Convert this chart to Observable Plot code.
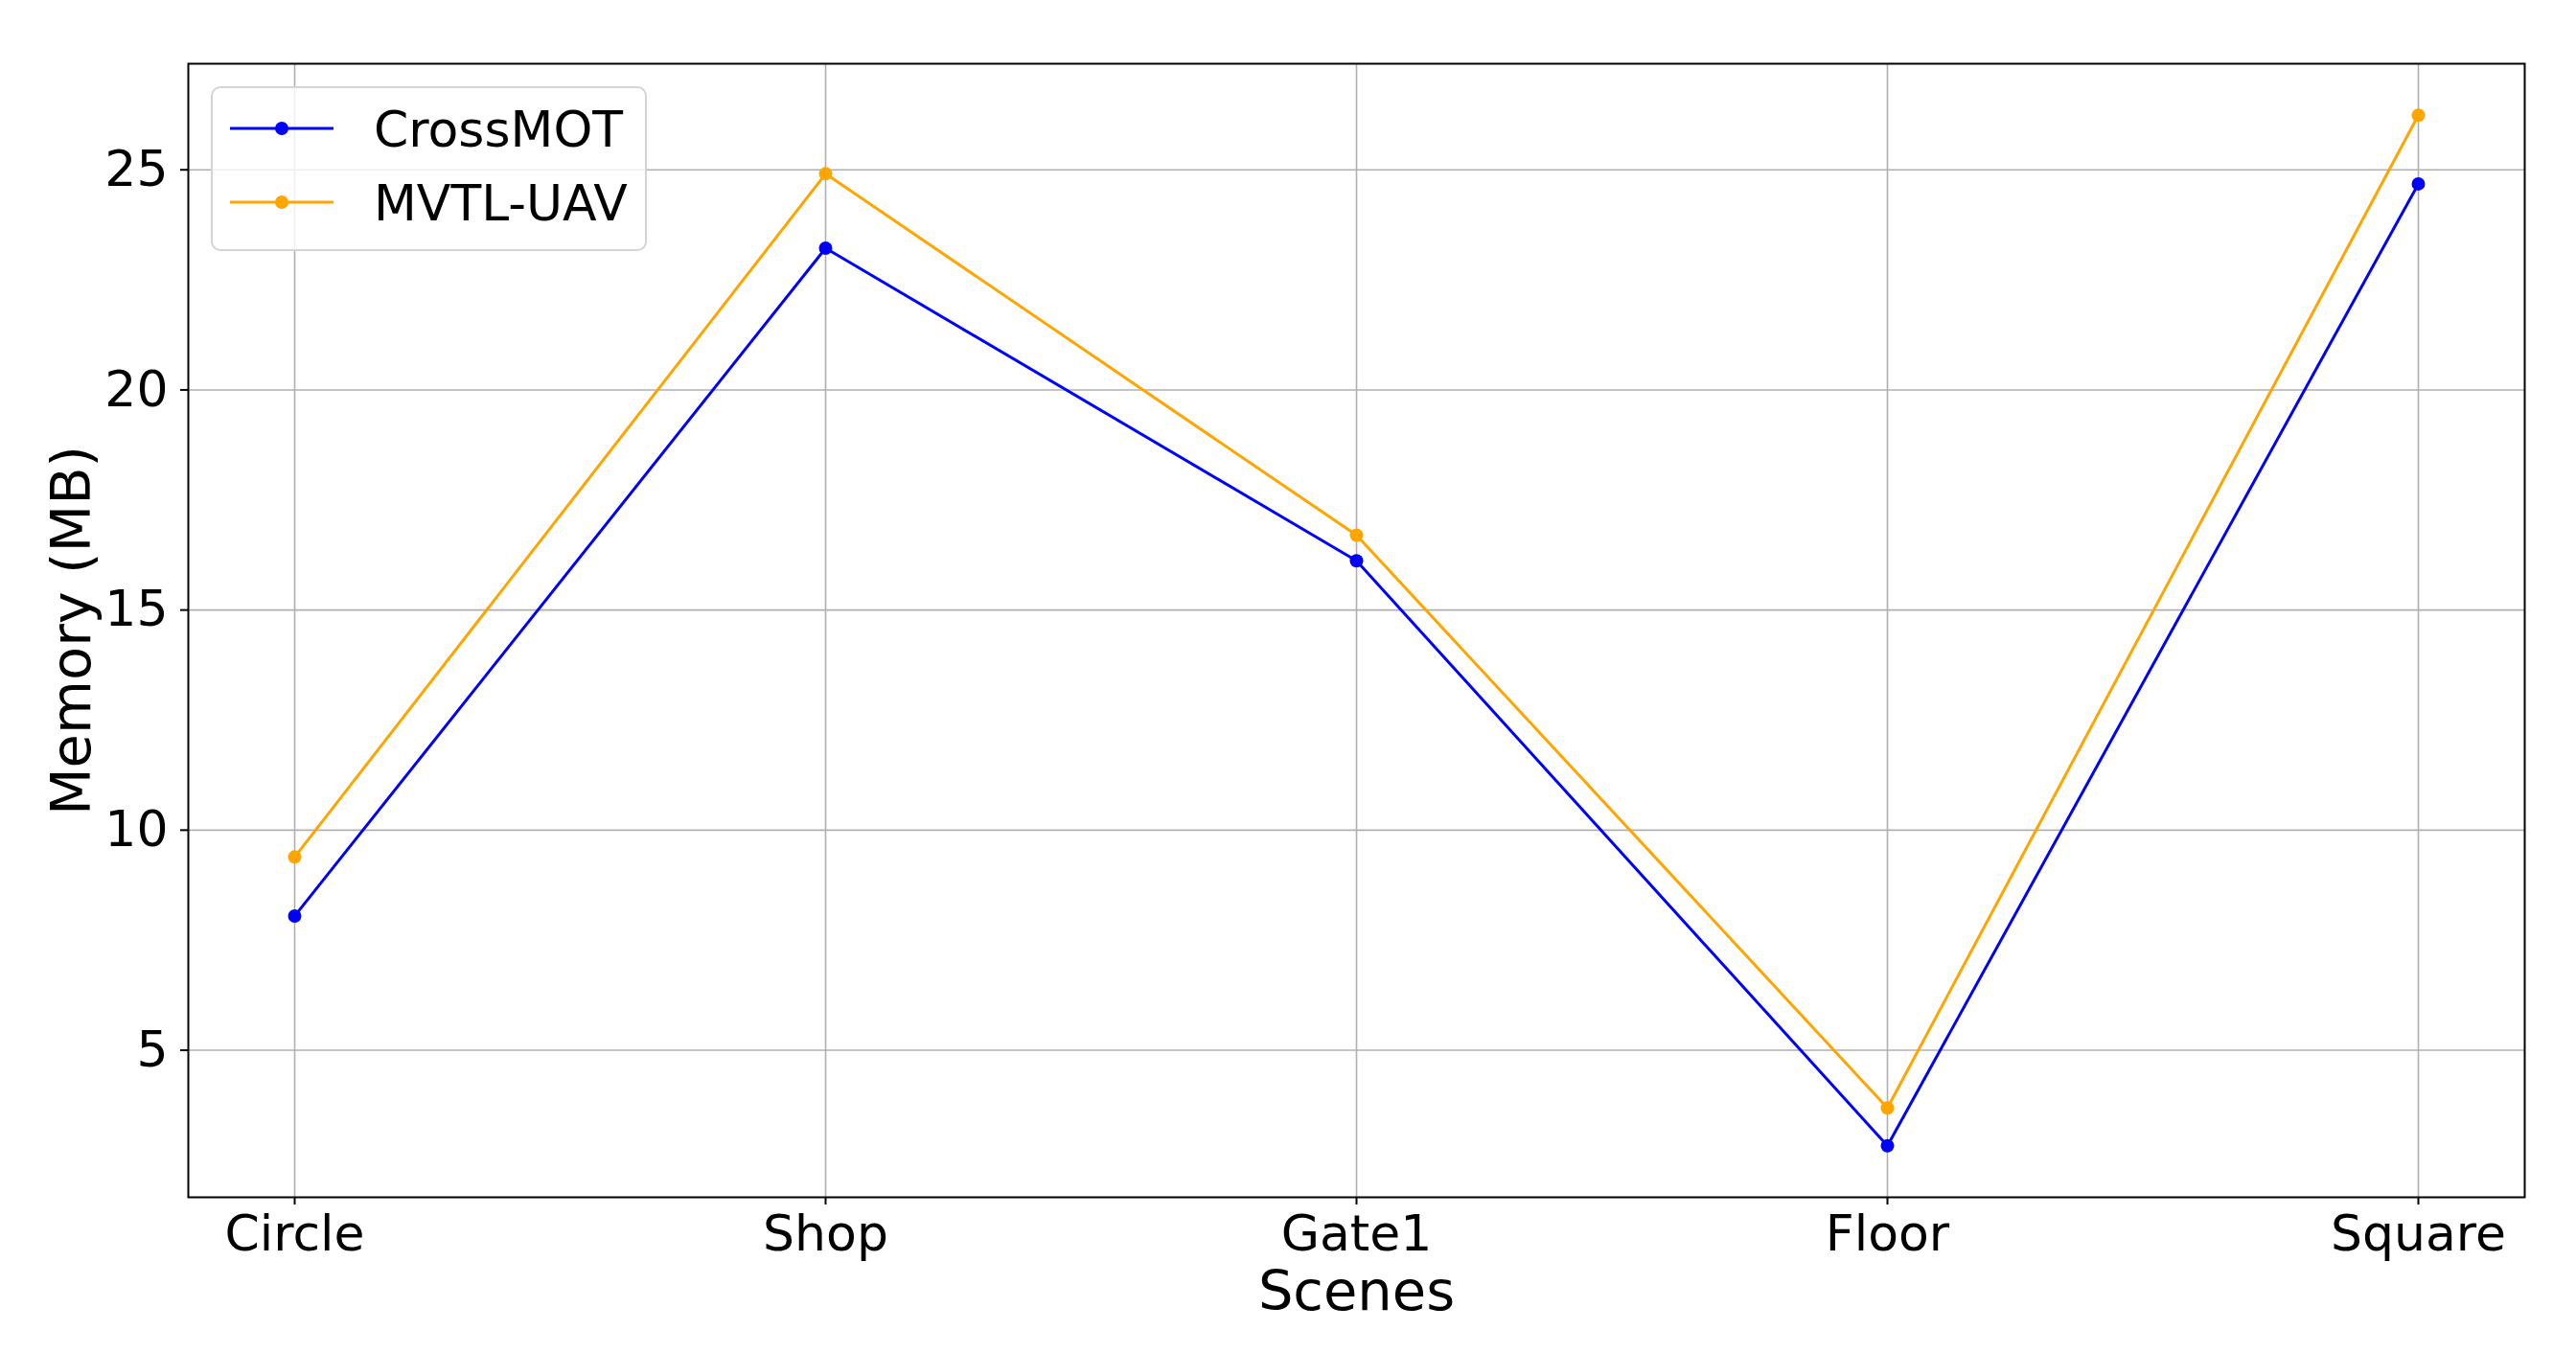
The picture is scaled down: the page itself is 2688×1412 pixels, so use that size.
<!DOCTYPE html>
<html>
<head>
<meta charset="utf-8">
<script src="https://cdn.jsdelivr.net/npm/d3@7"></script>
<script src="https://cdn.jsdelivr.net/npm/@observablehq/plot@0.6"></script>
<style>
  html, body { margin: 0; padding: 0; background: white; }
  #wrap { position: relative; width: 2688px; height: 1412px; }
  #legend { position: absolute; left: 0; top: 0; pointer-events: none; }
</style>
</head>
<body>
<div id="wrap"></div>
<script>
const scenes = ["Circle", "Shop", "Gate1", "Floor", "Square"];
const crossMOT = [8.05, 23.22, 16.12, 2.83, 24.68];
const mvtlUAV = [9.39, 24.91, 16.70, 3.69, 26.24];
const seriesNames = ["CrossMOT", "MVTL-UAV"];
const seriesColors = ["blue", "orange"];
const yTicks = [5, 10, 15, 20, 25];
const xLabel = "Scenes";
const yLabel = "Memory (MB)";

const seriesValues = [crossMOT, mvtlUAV];
const rows = [];
seriesNames.forEach((name, k) => {
  scenes.forEach((s, i) => rows.push({scene: s, value: seriesValues[k][i], series: name}));
});

const font = "DejaVu Sans";

const chart = Plot.plot({
  width: 2688,
  height: 1412,
  marginLeft: 196,
  marginRight: 54,
  marginTop: 66,
  marginBottom: 163,
  style: {fontFamily: font, fontSize: "52px", color: "black", background: "white", overflow: "visible"},
  x: {type: "point", domain: scenes, padding: 0.2, label: null},
  y: {domain: [1.66, 27.41], label: null},
  color: {domain: seriesNames, range: seriesColors},
  marks: [
    Plot.gridX(scenes, {stroke: "#b0b0b0", strokeOpacity: 1, strokeWidth: 1.6}),
    Plot.gridY(yTicks, {stroke: "#b0b0b0", strokeOpacity: 1, strokeWidth: 1.6}),
    Plot.line(rows, {x: "scene", y: "value", z: "series", stroke: "series", strokeWidth: 3}),
    Plot.dot(rows, {x: "scene", y: "value", fill: "series", r: 7, stroke: null}),
    Plot.frame({stroke: "black", strokeWidth: 2}),
    Plot.axisX(scenes, {tickSize: 8, tickPadding: 11, strokeWidth: 2, fontSize: 52, label: null}),
    Plot.axisY(yTicks, {tickSize: 8, tickPadding: 13, strokeWidth: 2, fontSize: 52, label: null}),
    Plot.text([xLabel], {frameAnchor: "bottom", dy: 117, lineAnchor: "bottom", textAnchor: "middle", fontSize: 57.5, fill: "black"}),
    Plot.text([yLabel], {frameAnchor: "left", dx: -103, rotate: -90, lineAnchor: "bottom", textAnchor: "middle", fontSize: 57.5, fill: "black"})
  ]
});

const wrap = document.getElementById("wrap");
wrap.appendChild(chart);

// Legend overlay (inside the axes, upper left)
const legend = d3.create("svg")
  .attr("id", "legend")
  .attr("width", 2688)
  .attr("height", 1412)
  .style("font-family", font);

legend.append("rect")
  .attr("x", 221).attr("y", 91)
  .attr("width", 453).attr("height", 170)
  .attr("rx", 9).attr("ry", 9)
  .attr("fill", "white").attr("fill-opacity", 0.8)
  .attr("stroke", "#d4d4d4").attr("stroke-width", 2);

const rowY = [134, 211];
seriesNames.forEach((name, k) => {
  const g = legend.append("g").attr("transform", `translate(0,${rowY[k]})`);
  g.append("line").attr("x1", 240).attr("x2", 348).attr("y1", 0).attr("y2", 0)
    .attr("stroke", seriesColors[k]).attr("stroke-width", 3);
  g.append("circle").attr("cx", 294).attr("cy", 0).attr("r", 7).attr("fill", seriesColors[k]);
  g.append("text").attr("x", 390).attr("y", 0).attr("dy", "0.36em")
    .attr("font-size", 52).attr("fill", "black").text(name);
});

wrap.appendChild(legend.node());
</script>
</body>
</html>
